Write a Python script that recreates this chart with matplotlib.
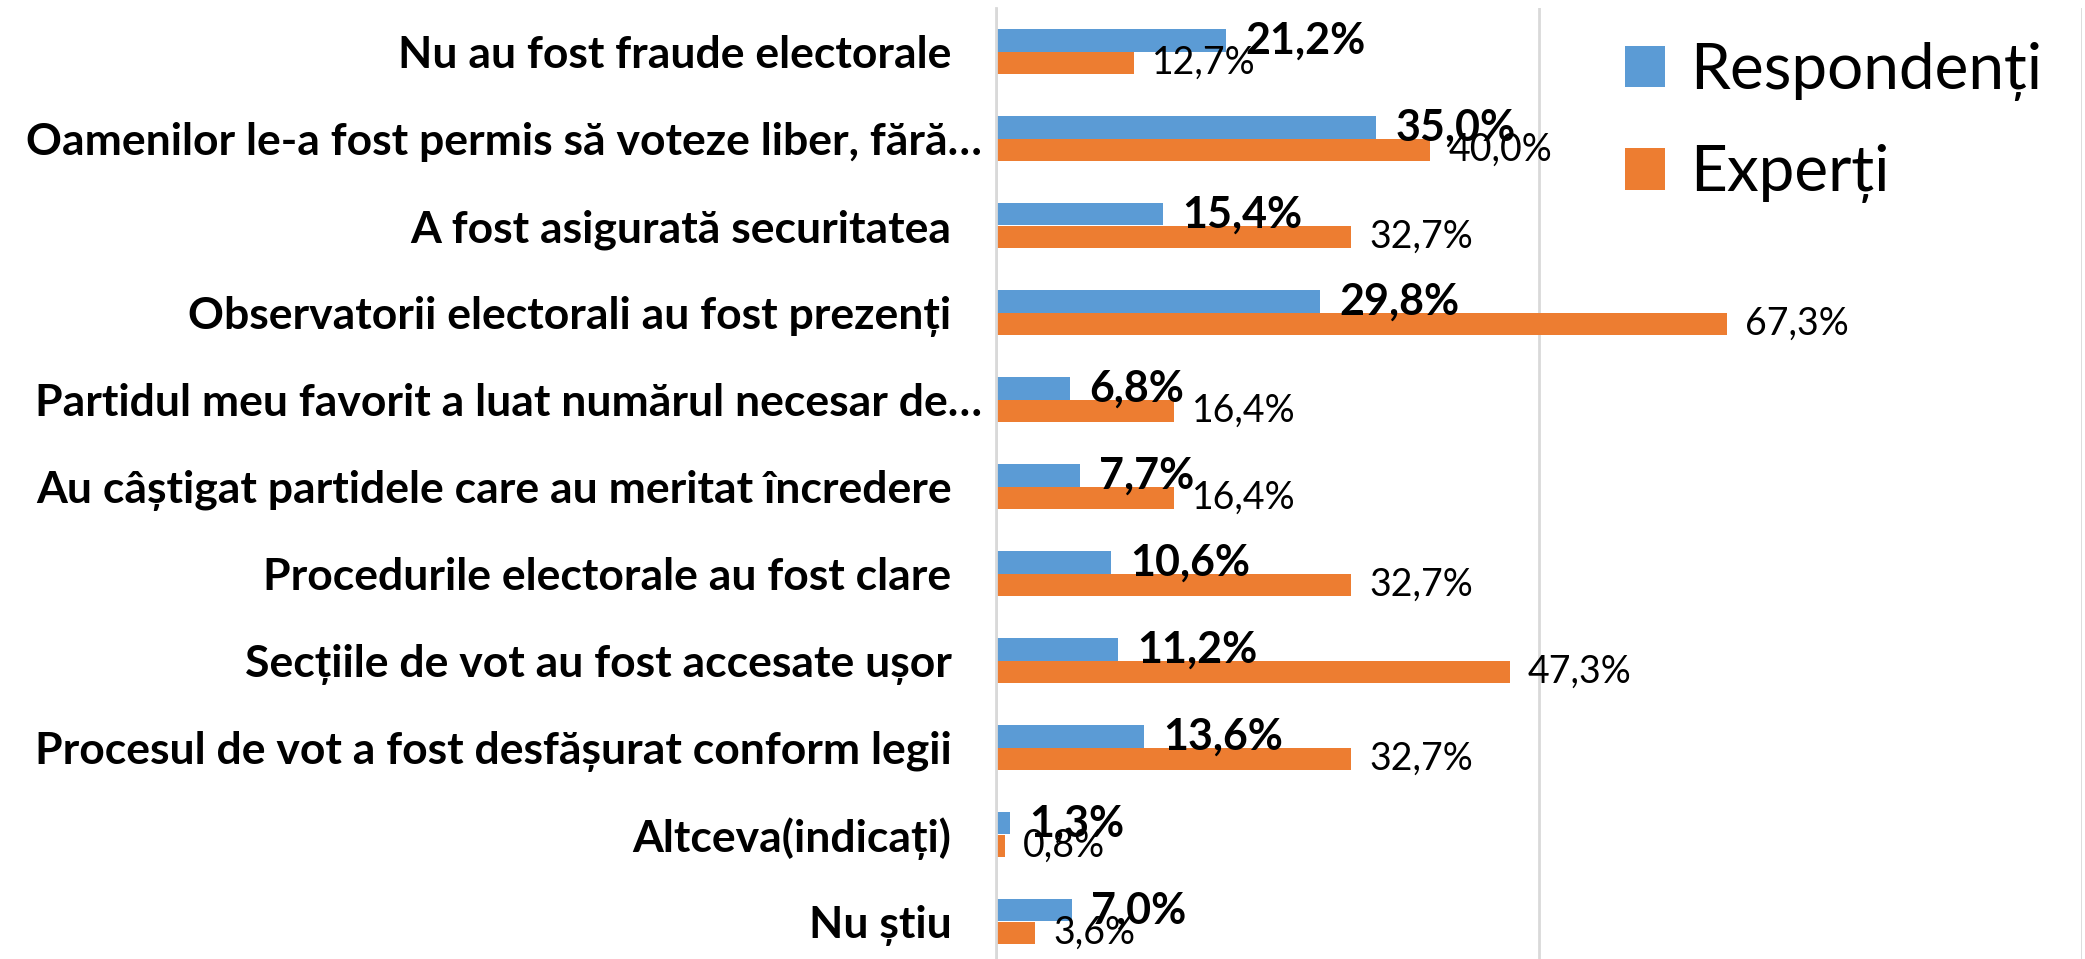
import matplotlib
matplotlib.use("Agg")
import matplotlib.pyplot as plt
import matplotlib.transforms as mtransforms
import numpy as np

categories = [
    "Nu au fost fraude electorale",
    "Oamenilor le-a fost permis să voteze liber, fără…",
    "A fost asigurată securitatea",
    "Observatorii electorali au fost prezenți",
    "Partidul meu favorit a luat numărul necesar de…",
    "Au câștigat partidele care au meritat încredere",
    "Procedurile electorale au fost clare",
    "Secțiile de vot au fost accesate ușor",
    "Procesul de vot a fost desfășurat conform legii",
    "Altceva(indicați)",
    "Nu știu",
]
respondenti = [21.2, 35.0, 15.4, 29.8, 6.8, 7.7, 10.6, 11.2, 13.6, 1.3, 7.0]
experti = [12.7, 40.0, 32.7, 67.3, 16.4, 16.4, 32.7, 47.3, 32.7, 0.8, 3.6]

blue = '#5B9BD5'
orange = '#ED7D31'
grid = '#D9D9D9'

plt.rcParams['font.family'] = ['Lato', 'DejaVu Sans']


def fmt(v):
    return f"{v:.1f}%".replace('.', ',')


W, H = 2085, 959
fig = plt.figure(figsize=(W / 100, H / 100), dpi=100)
ax = fig.add_axes([996 / W, 1 - 965 / H, (2082 - 996) / W, 957 / H])

y = np.arange(len(categories))
h = 0.26
ax.barh(y - h / 2, respondenti, height=h, color=blue, label='Respondenți')
ax.barh(y + h / 2, experti, height=h, color=orange, label='Experți')

ax.set_xlim(0, 100)
ax.set_ylim(len(categories) - 0.5, -0.5)
ax.set_xticks([0, 50, 100])
ax.set_xticklabels([])
ax.tick_params(axis='x', length=0)
ax.grid(axis='x', color=grid, linewidth=2)
ax.grid(axis='y', visible=False)
ax.set_axisbelow(True)
for s in ['top', 'right', 'bottom']:
    ax.spines[s].set_visible(False)
ax.spines['left'].set_color(grid)
ax.spines['left'].set_linewidth(2)

ax.set_yticks(y)
ax.set_yticklabels(categories, fontsize=32, fontweight='bold')
ax.tick_params(axis='y', length=0, pad=32)
# the truncated labels stick out further to the right in the original
shift = mtransforms.ScaledTranslation(0.30, 0, fig.dpi_scale_trans)
for lab in ax.get_yticklabels():
    if lab.get_text().endswith('…'):
        lab.set_transform(lab.get_transform() + shift)

for yi, v in zip(y, respondenti):
    ax.annotate(fmt(v), (v, yi - h / 2), xytext=(14, 0), textcoords='offset points',
                va='center', ha='left', fontsize=31, fontweight='bold')
for yi, v in zip(y, experti):
    ax.annotate(fmt(v), (v, yi + h / 2), xytext=(13, 0), textcoords='offset points',
                va='center', ha='left', fontsize=27)

fig.legend(loc='upper left', bbox_to_anchor=(1625 / W, 1 - 42 / H),
           bbox_transform=fig.transFigure, frameon=False, fontsize=46,
           borderpad=0, borderaxespad=0, handlelength=0.62, handleheight=0.62,
           handletextpad=0.4, labelspacing=0.68)

fig.savefig('out.png', dpi=100)
